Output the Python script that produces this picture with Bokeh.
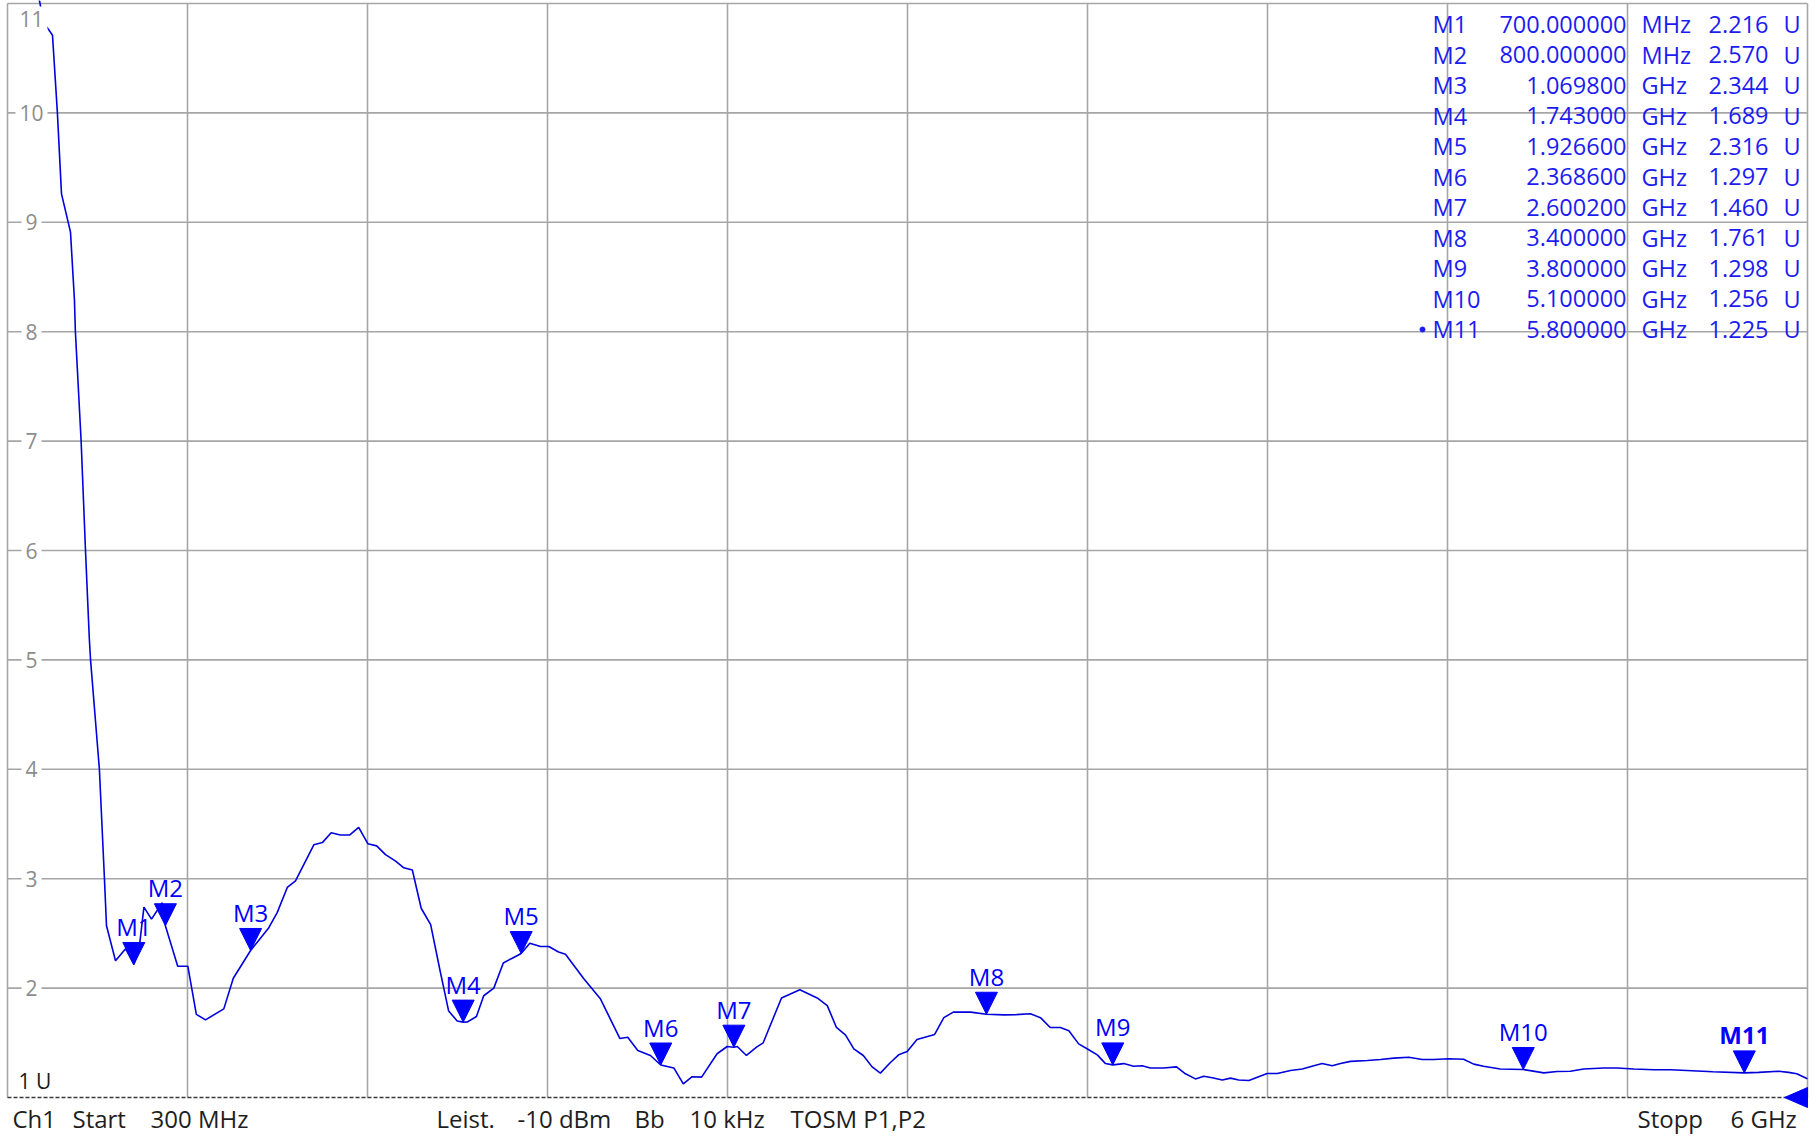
from bokeh.plotting import figure
from bokeh.models import Label, ColumnDataSource, Range1d
from bokeh.embed import file_html
from bokeh.resources import INLINE
from bokeh.core.properties import value

# ---------------- data ----------------
freq_ghz = [0.392, 0.401, 0.414, 0.4425, 0.458, 0.471, 0.4995, 0.512, 0.515, 0.533,
            0.547, 0.559, 0.563, 0.591, 0.607, 0.6135, 0.642, 0.674, 0.700, 0.716,
            0.732, 0.756, 0.790, 0.800, 0.839, 0.871, 0.898, 0.927, 0.985, 1.015,
            1.0698, 1.127, 1.154, 1.186, 1.212, 1.270, 1.297, 1.325, 1.354, 1.384,
            1.412, 1.441, 1.469, 1.497, 1.529, 1.555, 1.582, 1.610, 1.640, 1.669,
            1.697, 1.724, 1.743, 1.756, 1.785, 1.808, 1.840, 1.870, 1.903, 1.9266,
            1.954, 1.988, 2.014, 2.045, 2.067, 2.125, 2.178, 2.239, 2.264, 2.296,
            2.336, 2.3686, 2.410, 2.440, 2.468, 2.498, 2.547, 2.579, 2.6002, 2.611,
            2.640, 2.672, 2.693, 2.751, 2.809, 2.864, 2.896, 2.925, 2.954, 2.980,
            3.010, 3.038, 3.064, 3.096, 3.122, 3.149, 3.180, 3.236, 3.265, 3.295,
            3.350, 3.400, 3.455, 3.492, 3.539, 3.571, 3.602, 3.634, 3.661, 3.692,
            3.724, 3.751, 3.777, 3.800, 3.835, 3.866, 3.893, 3.919, 3.961, 4.002,
            4.030, 4.062, 4.088, 4.115, 4.147, 4.173, 4.199, 4.231, 4.262, 4.289,
            4.321, 4.363, 4.400, 4.431, 4.463, 4.495, 4.521, 4.553, 4.606, 4.648,
            4.690, 4.737, 4.780, 4.816, 4.864, 4.911, 4.943, 4.974, 5.027, 5.100,
            5.165, 5.207, 5.249, 5.291, 5.355, 5.397, 5.450, 5.513, 5.565, 5.618,
            5.700, 5.800, 5.845, 5.909, 5.940, 5.966, 5.993, 6.000]
vswr = [11.20, 11.03, 10.83, 10.71, 10.00, 9.26, 8.91, 8.29, 8.00, 7.01,
        6.00, 5.20, 5.00, 4.00, 3.00, 2.57, 2.25, 2.36, 2.216, 2.34,
        2.74, 2.63, 2.78, 2.570, 2.20, 2.20, 1.76, 1.71, 1.81, 2.09,
        2.344, 2.55, 2.69, 2.92, 2.98, 3.31, 3.33, 3.42, 3.40, 3.40,
        3.47, 3.32, 3.30, 3.22, 3.16, 3.10, 3.08, 2.73, 2.58, 2.17,
        1.79, 1.70, 1.689, 1.69, 1.74, 1.93, 2.00, 2.23, 2.28, 2.316,
        2.41, 2.38, 2.38, 2.33, 2.31, 2.085, 1.90, 1.54, 1.55, 1.43,
        1.384, 1.297, 1.27, 1.125, 1.19, 1.186, 1.40, 1.466, 1.460, 1.466,
        1.384, 1.46, 1.50, 1.91, 1.985, 1.91, 1.84, 1.64, 1.57, 1.445,
        1.384, 1.28, 1.223, 1.32, 1.39, 1.42, 1.53, 1.576, 1.73, 1.78,
        1.78, 1.761, 1.755, 1.757, 1.765, 1.73, 1.64, 1.64, 1.61, 1.49,
        1.436, 1.39, 1.31, 1.298, 1.31, 1.286, 1.29, 1.27, 1.27, 1.28,
        1.217, 1.17, 1.195, 1.18, 1.16, 1.177, 1.16, 1.155, 1.19, 1.22,
        1.22, 1.247, 1.26, 1.286, 1.31, 1.29, 1.31, 1.33, 1.338, 1.347,
        1.36, 1.368, 1.347, 1.347, 1.354, 1.350, 1.305, 1.286, 1.26, 1.256,
        1.225, 1.238, 1.24, 1.26, 1.27, 1.27, 1.26, 1.253, 1.253, 1.247,
        1.236, 1.225, 1.23, 1.24, 1.23, 1.217, 1.18, 1.17]

marker_names = ["M1", "M2", "M3", "M4", "M5", "M6", "M7", "M8", "M9", "M10", "M11"]
marker_freq_ghz = [0.7, 0.8, 1.0698, 1.743, 1.9266, 2.3686, 2.6002, 3.4, 3.8, 5.1, 5.8]
marker_vswr = [2.216, 2.570, 2.344, 1.689, 2.316, 1.297, 1.460, 1.761, 1.298, 1.256, 1.225]
active_marker = "M11"

start_ghz, stop_ghz = 0.3, 6.0
n_div_x = 10
vswr_min, vswr_max = 1, 11
y_tick_values = [2, 3, 4, 5, 6, 7, 8, 9, 10, 11]
ref_text = "1 U"
footer_texts = ["Ch1", "Start", "300 MHz", "Leist.", "-10 dBm", "Bb", "10 kHz",
                "TOSM P1,P2", "Stopp", "6 GHz"]

# ---------------- layout ----------------
W, H = 1816, 1135
FX0, FX1 = 7, 1807            # page x of start / stop
FY_TOP, FY_BOT = 3, 1097      # page y of vswr_max / vswr_min
px_per_ghz = (FX1 - FX0) / (stop_ghz - start_ghz)
px_per_u = (FY_BOT - FY_TOP) / (vswr_max - vswr_min)
x_lo = start_ghz - FX0 / px_per_ghz
x_hi = start_ghz + (W - FX0) / px_per_ghz
y_hi = vswr_max + FY_TOP / px_per_u
y_lo = vswr_min - (H - FY_BOT) / px_per_u

GRID = "#a6a6a6"
TRACE = "#0000dd"
MBLUE = "#0000ff"
TBLUE = "#1c1cf0"
FONT = "Open Sans"


def sx(page_x):
    return page_x


def sy(page_y):
    return H - page_y


p = figure(width=W, height=H, x_range=Range1d(x_lo, x_hi), y_range=Range1d(y_lo, y_hi),
           x_axis_type=None, y_axis_type=None, toolbar_location=None,
           output_backend="svg", min_border=0, outline_line_color=None,
           background_fill_color="white", border_fill_color="white")
p.min_border_left = p.min_border_right = p.min_border_top = p.min_border_bottom = 0

# grid
step = (stop_ghz - start_ghz) / n_div_x
gx = [start_ghz + k * step for k in range(n_div_x + 1)]
p.segment(x0=gx, y0=[vswr_min] * len(gx), x1=gx, y1=[vswr_max] * len(gx),
          line_color=GRID, line_width=1.6)
p.segment(x0=[start_ghz] * len(y_tick_values), y0=y_tick_values,
          x1=[stop_ghz] * len(y_tick_values), y1=y_tick_values,
          line_color=GRID, line_width=1.6)

# reference line (1 U)
p.segment(x0=[start_ghz], y0=[vswr_min], x1=[stop_ghz], y1=[vswr_min],
          line_color="#3a3a3a", line_width=1.5, line_dash="4 2")

# trace
p.line(freq_ghz, vswr, line_color=TRACE, line_width=1.6)

# marker triangles (tip on the trace point)
hw = 11 / px_per_ghz
th = 22 / px_per_u
tri_x = [[f - hw, f + hw, f] for f in marker_freq_ghz]
tri_y = [[v + th, v + th, v] for v in marker_vswr]
p.patches(tri_x, tri_y, fill_color=MBLUE, line_color=MBLUE, line_width=1)

msrc = ColumnDataSource(dict(x=marker_freq_ghz, y=marker_vswr, t=marker_names,
                             st=["bold" if n == active_marker else "normal" for n in marker_names]))
p.text(x="x", y="y", text="t", source=msrc, y_offset=-38, text_align="center",
       text_baseline="middle", text_font=value(FONT), text_font_size="24px",
       text_color=MBLUE, text_font_style="st")

# reference level triangle at the right edge
rw = 23 / px_per_ghz
rh = 10 / px_per_u
p.patches([[stop_ghz - rw, stop_ghz, stop_ghz]],
          [[vswr_min, vswr_min + rh, vswr_min - rh]],
          fill_color=MBLUE, line_color=MBLUE)

# active marker dot in the table
dot_px, dot_py = 1422, 329
p.scatter([x_lo + dot_px / px_per_ghz], [y_lo + (H - dot_py) / px_per_u],
          marker="circle", size=5, fill_color=TBLUE, line_color=TBLUE)


def add_label(**kw):
    pad = kw.pop("padding", None)
    lab = Label(**kw)
    if pad is not None:
        try:
            lab.padding = pad
        except Exception:
            pass
    p.add_layout(lab)


# y tick labels (inside the plot, white box over the grid)
for t in y_tick_values:
    if t == vswr_max:
        add_label(x=sx(31), y=sy(18), x_units="screen", y_units="screen", text=str(t),
                  text_align="center", text_baseline="middle", text_color="#8c8c8c",
                  text_font=FONT, text_font_size="21px",
                  background_fill_color="white", padding=4)
    else:
        add_label(x=sx(31), y=t, x_units="screen", y_units="data", text=str(t),
                  text_align="center", text_baseline="middle", text_color="#8c8c8c",
                  text_font=FONT, text_font_size="21px",
                  background_fill_color="white", padding=4)

add_label(x=sx(18), y=sy(1080), x_units="screen", y_units="screen", text=ref_text,
          text_align="left", text_baseline="middle", text_color="#1a1a1a",
          text_font=FONT, text_font_size="21px")

# marker table
for i, (n, f, v) in enumerate(zip(marker_names, marker_freq_ghz, marker_vswr)):
    mid = sy(23.5 + 30.5 * i)
    if f < 1:
        fs, unit = f"{f * 1000:.6f}", "MHz"
    else:
        fs, unit = f"{f:.6f}", "GHz"
    cols = [(1432, n, "left"), (1626, fs, "right"), (1641, unit, "left"),
            (1768, f"{v:.3f}", "right"), (1783, "U", "left")]
    for px, txt, al in cols:
        add_label(x=sx(px), y=mid, x_units="screen", y_units="screen", text=txt,
                  text_align=al, text_baseline="middle", text_color=TBLUE,
                  text_font=FONT, text_font_size="23.5px")

# footer line
footer_x = [12, 72, 150, 436, 517, 634, 689, 790, 1637, 1730]
for px, txt in zip(footer_x, footer_texts):
    add_label(x=sx(px), y=sy(1118), x_units="screen", y_units="screen", text=txt,
              text_align="left", text_baseline="middle", text_color="#1e1e1e",
              text_font=FONT, text_font_size="24px")

open("out.html", "w").write(file_html(p, INLINE))
